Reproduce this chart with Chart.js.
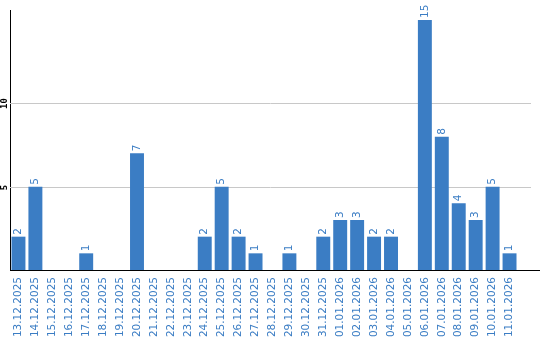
<!DOCTYPE html>
<html>
<head>
<meta charset="utf-8">
<script src="https://cdn.jsdelivr.net/npm/chart.js@4/dist/chart.umd.min.js"></script>
<style>
  html, body { margin: 0; padding: 0; background: #fff; }
  #wrap { width: 540px; height: 340px; }
</style>
</head>
<body>
<div id="wrap"><canvas id="chart" width="540" height="340"></canvas></div>
<script>
// Data
const days = [
    '13.12.2025', '14.12.2025', '15.12.2025', '16.12.2025', '17.12.2025',
    '18.12.2025', '19.12.2025', '20.12.2025', '21.12.2025', '22.12.2025',
    '23.12.2025', '24.12.2025', '25.12.2025', '26.12.2025', '27.12.2025',
    '28.12.2025', '29.12.2025', '30.12.2025', '31.12.2025', '01.01.2026',
    '02.01.2026', '03.01.2026', '04.01.2026', '05.01.2026', '06.01.2026',
    '07.01.2026', '08.01.2026', '09.01.2026', '10.01.2026', '11.01.2026'
];
const counts = [2, 5, 0, 0, 1, 0, 0, 7, 0, 0, 0, 2, 5, 2, 1, 0, 1, 0, 2, 3, 3, 2, 2, 0, 15, 8, 4, 3, 5, 1];
const yTicks = [5, 10];

const BLUE = '#3b7dc4';
const FONT = '"DejaVu Sans", Verdana, sans-serif';

// Draws grid lines, y tick labels, x axis line and value labels
const extras = {
    id: 'extras',
    beforeDatasetsDraw(chart) {
        const ctx = chart.ctx;
        const y = chart.scales.y;
        const area = chart.chartArea;
        ctx.save();
        ctx.strokeStyle = '#c8c8c8';
        ctx.lineWidth = 1;
        ctx.fillStyle = '#000';
        ctx.font = 'bold 9px "DejaVu Sans Mono", monospace';
        ctx.textAlign = 'center';
        ctx.textBaseline = 'middle';
        yTicks.forEach(v => {
            const py = Math.round(y.getPixelForValue(v)) + 0.5;
            ctx.beginPath();
            ctx.moveTo(area.left, py);
            ctx.lineTo(531, py);
            ctx.stroke();
            ctx.save();
            ctx.translate(5, py);
            ctx.rotate(-Math.PI / 2);
            ctx.fillText(String(v), 0, 0);
            ctx.restore();
        });
        ctx.restore();
    },
    afterDatasetsDraw(chart) {
        const ctx = chart.ctx;
        const area = chart.chartArea;
        const meta = chart.getDatasetMeta(0);
        ctx.save();
        ctx.strokeStyle = '#000';
        ctx.lineWidth = 1;
        ctx.beginPath();
        ctx.moveTo(area.left, Math.round(area.bottom) + 0.5);
        ctx.lineTo(540, Math.round(area.bottom) + 0.5);
        ctx.stroke();

        ctx.fillStyle = BLUE;
        ctx.font = '10.5px ' + FONT;
        ctx.textAlign = 'left';
        ctx.textBaseline = 'middle';
        meta.data.forEach((bar, i) => {
            if (!counts[i]) return;
            ctx.save();
            ctx.translate(bar.x, bar.y - 2);
            ctx.rotate(-Math.PI / 2);
            ctx.fillText(String(counts[i]), 0, 0);
            ctx.restore();
        });
        ctx.restore();
    }
};

new Chart(document.getElementById('chart'), {
    type: 'bar',
    data: {
        labels: days,
        datasets: [{
            data: counts,
            backgroundColor: BLUE,
            borderWidth: 0,
            categoryPercentage: 1,
            barPercentage: 14 / 17
        }]
    },
    options: {
        responsive: false,
        animation: false,
        layout: { padding: { top: 10, right: 22, left: 0, bottom: 0 } },
        plugins: {
            legend: { display: false },
            tooltip: { enabled: false }
        },
        scales: {
            x: {
                offset: true,
                grid: { display: false, drawTicks: false },
                border: { display: false },
                afterFit(scale) { scale.height = 70; },
                ticks: {
                    color: BLUE,
                    font: { family: FONT, size: 10.5 },
                    minRotation: 90,
                    maxRotation: 90,
                    autoSkip: false,
                    padding: 7
                }
            },
            y: {
                min: 0,
                max: 15.6,
                grid: { display: false },
                border: { display: true, color: '#000', width: 1 },
                afterFit(scale) { scale.width = 10; },
                afterBuildTicks(scale) { scale.ticks = yTicks.map(v => ({ value: v })); },
                ticks: { display: false }
            }
        }
    },
    plugins: [extras]
});
</script>
</body>
</html>
